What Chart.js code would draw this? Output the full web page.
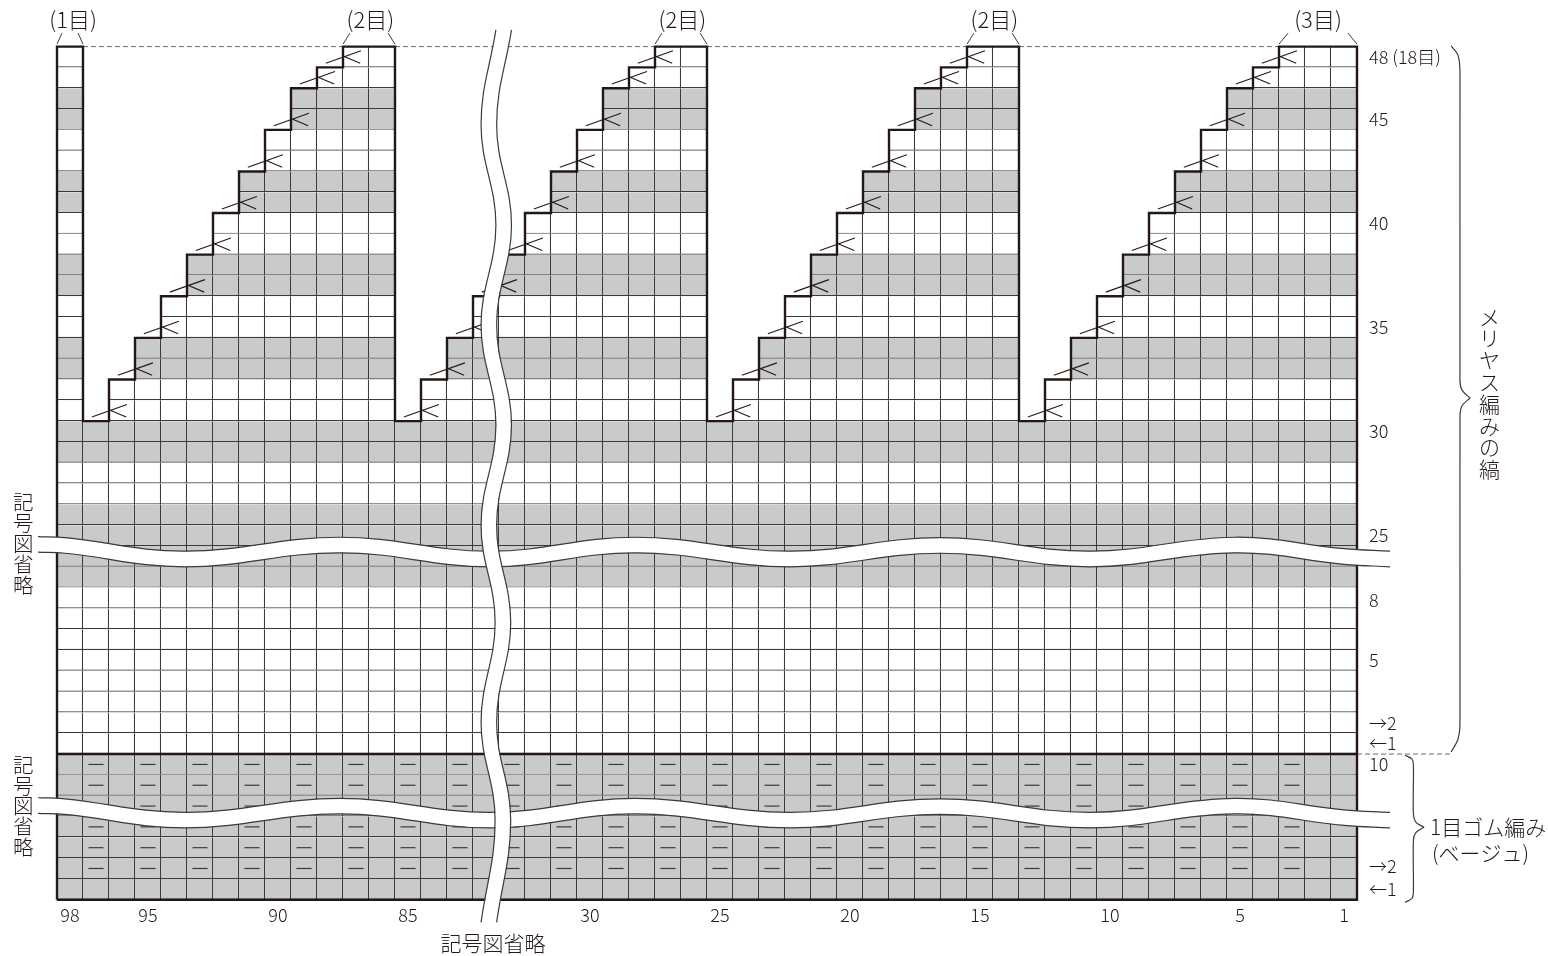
<!DOCTYPE html>
<html lang="ja">
<head>
<meta charset="utf-8">
<title>編み図</title>
<style>
  html, body { margin: 0; padding: 0; background: #fff; }
  canvas { display: block; }
</style>
<script src="https://cdn.jsdelivr.net/npm/chart.js@4/dist/chart.umd.min.js"></script>
</head>
<body>
<canvas id="knitChart" width="1548" height="956"></canvas>
<script>
// Stitch numbers, left to right (the chart skips 82..35 behind the vertical break)
const columnLabels = ['98','97','96','95','94','93','92','91','90','89','88','87','86','85','84','83',
  '34','33','32','31','30','29','28','27','26','25','24','23','22','21','20','19','18','17','16','15',
  '14','13','12','11','10','9','8','7','6','5','4','3','2','1'];
const shownColumnLabels = ['98','95','90','85','30','25','20','15','10','5','1'];

// Top edge of each column, counted in rows from the top of the grid
const columnTop = [0,
  18,16,14,12,10,8,6,4,2,1,0,0,
  18,16,14,12,10,8,6,4,2,1,0,0,
  18,16,14,12,10,8,6,4,2,1,0,0,
  18,16,14,12,10,8,6,4,2,1,0,0,0];

// 1 = grey row, 0 = white row, from the top row down
const rowShade = [0,0,1,1,0,0,1,1,0,0,1,1,0,0,1,1,0,0,1,1,0,0,1,1,1,1,0,0,0,0,0,0,0,0,1,1,1,1,1,1,1];

// Row tick labels on the right
const rowTickValues = [0.5,3.5,8.5,13.5,18.5,23.5,26.6,29.5,32.5,33.5,34.5,39.4,40.5];
const rowTickLabels = ['48 (18目)','45','40','35','30','25','8','5','→2','←1','10','→2','←1'];

// Decrease symbols: column edge and row of each one in the first repeat
const decreaseCols = [11,10,9,8,7,6,5,4,3,2];
const decreaseRows = [0,1,3,5,7,9,11,13,15,17];
const decreaseRepeats = [0,12,24,36];

// Purl dashes in the ribbing
const purlCols = [1,3,5,7,9,11,13,15,17,19,21,23,25,27,29,31,33,35,37,39,41,43,45,47];
const purlRows = [34,35,36,37,38,39];

// Break lines, upper edge of the horizontal ones and left edge of the vertical one
const waveCols = [-0.73,0.3,4.92,10.88,16.65,22.23,28.19,33.96,39.73,45.31,49.5,51.27];
const waveRows = [23.55,23.6,24.25,23.58,24.25,23.58,24.25,23.6,24.25,23.58,24.13,24.25];
const ribWaveShift = 12.55;
const breakCols = [16.88,16.31,16.88,16.31,16.88,16.31,16.85,16.31,16.85,16.31];
const breakRows = [-0.8,3.77,8.58,13.38,18.19,22.99,27.66,32.47,37.18,42.09];

// Braces, each half ends on the tip
const braceUpper = [[53.62,-0.04],[53.88,0.4],[53.96,1.22],[53.96,16.03],[54.04,16.51],[54.35,16.89]];
const braceLower = [[54.35,16.89],[54.04,17.26],[53.96,17.81],[53.96,32.52],[53.88,33.3],[53.62,33.9]];
const ribBraceUpper = [[51.85,34.06],[52.12,34.25],[52.17,34.59],[52.17,36.9],[52.27,37.28],[52.58,37.52]];
const ribBraceLower = [[52.58,37.52],[52.27,37.76],[52.17,38.14],[52.17,40.55],[52.12,40.93],[51.85,41.12]];

// Stitch-count caps above the grid: left edge, right edge, lean of the marks
const capLefts = [0,11,23,35,47];
const capRights = [1,13,25,37,50];
const capLeans = [0.19,0.27,0.27,0.27,0.35];

// Text outside the axes: [text, column, row], vertical ones are stacked by character
const notes = [
  ['(1目)', 0.62, -1.28, 22],
  ['(2目)', 12.05, -1.28, 22],
  ['(2目)', 24.05, -1.28, 22],
  ['(2目)', 36.05, -1.28, 22],
  ['(3目)', 48.5, -1.28, 22],
  ['記号図省略', 16.77, 43.1, 21]
];
const leftNotes = [
  ['1目ゴム編み', 52.81, 37.52],
  ['(ベージュ)', 52.88, 38.77]
];
const verticalNotes = [
  ['記号図省略', -1.3, 21.9, 20.8, 20.5],
  ['記号図省略', -1.3, 34.55, 20.4, 20.5],
  ['メリヤス編みの縞', 55.1, 12.98, 21.8, 21]
];

const ink = '#231815';
const gridInk = '#3e3a39';
const grey = '#c9caca';
const fontName = '"Noto Sans CJK JP"';

const cellDatasets = rowShade.map((shade, row) => ({
  data: columnTop.map(top => (top <= row ? [row, row + 1] : null)),
  backgroundColor: shade ? grey : '#ffffff',
  borderColor: gridInk,
  borderWidth: { top: 0, left: 0, right: 1.2, bottom: 1.2 },
  borderSkipped: false,
  inflateAmount: 0,
  xAxisID: 'x',
  yAxisID: 'y',
  grouped: false,
  categoryPercentage: 1,
  barPercentage: 1
}));

function lineDataset(data, color, width, extra) {
  return Object.assign({
    type: 'line',
    data: data,
    xAxisID: 'xs',
    yAxisID: 'y',
    borderColor: color,
    borderWidth: width,
    pointRadius: 0,
    fill: false,
    clip: false,
    tension: 0,
    capBezierPoints: false,
    spanGaps: false
  }, extra || {});
}

// Several separate strokes in one dataset, split by empty points
function strokes(list) {
  const out = [];
  list.forEach(stroke => {
    stroke.forEach(p => out.push({ x: p[0], y: p[1] }));
    out.push({ x: stroke[stroke.length - 1][0], y: null });
  });
  return out;
}

const outline = [{ x: 0, y: 41 }];
columnTop.forEach((top, col) => {
  outline.push({ x: col, y: top });
  outline.push({ x: col + 1, y: top });
});
outline.push({ x: 50, y: 41 }, { x: 0, y: 41 });

const decreaseStrokes = [];
decreaseRepeats.forEach(shift => {
  decreaseCols.forEach((col, i) => {
    const c = col + shift;
    const r = decreaseRows[i] + 0.5;
    decreaseStrokes.push([[c - 0.66, r + 0.3], [c + 0.69, r - 0.3]]);
    decreaseStrokes.push([[c, r - 0.05], [c + 0.66, r + 0.3]]);
  });
});

const purlPoints = [];
purlRows.forEach(row => purlCols.forEach(col => purlPoints.push({ x: col + 0.5, y: row + 0.5 })));

const capStrokes = [];
capLefts.forEach((left, i) => {
  capStrokes.push([[left, -0.12], [left + capLeans[i], -0.65]]);
  capStrokes.push([[capRights[i], -0.12], [capRights[i] - capLeans[i], -0.65]]);
});

function waveSet(shift) {
  const top = waveCols.map((x, i) => ({ x: x, y: waveRows[i] + shift }));
  const mid = waveCols.map((x, i) => ({ x: x, y: waveRows[i] + shift + 0.37 }));
  const low = waveCols.map((x, i) => ({ x: x, y: waveRows[i] + shift + 0.75 }));
  return [
    lineDataset(mid, '#ffffff', 15, { tension: 0.4 }),
    lineDataset(top, '#3e3a39', 1.2, { tension: 0.4 }),
    lineDataset(low, '#3e3a39', 1.2, { tension: 0.4 })
  ];
}

const breakLeft = breakCols.map((x, i) => ({ x: x, y: breakRows[i] }));
const breakMid = breakCols.map((x, i) => ({ x: x + 0.3, y: breakRows[i] }));
const breakRight = breakCols.map((x, i) => ({ x: x + 0.6, y: breakRows[i] }));

// Painted back to front; the order field below turns this into Chart.js order
const datasets = [
  ...cellDatasets,
  lineDataset([{ x: 1, y: 0 }, { x: 47, y: 0 }], '#6f6b69', 1, { borderDash: [5, 3] }),
  lineDataset([{ x: 50, y: 34 }, { x: 53.6, y: 34 }], '#6f6b69', 1, { borderDash: [5, 3] }),
  lineDataset(outline, ink, 2.4),
  lineDataset([{ x: 0, y: 34 }, { x: 50, y: 34 }], ink, 2.4),
  lineDataset(purlPoints, '#3e3a39', 0, {
    showLine: false,
    pointStyle: 'line',
    pointRadius: 7.5,
    pointBorderWidth: 1.2,
    pointBorderColor: '#3e3a39'
  }),
  lineDataset(strokes(decreaseStrokes), ink, 1.1),
  lineDataset(strokes(capStrokes), '#3e3a39', 1),
  lineDataset(braceUpper.map(p => ({ x: p[0], y: p[1] })), '#3e3a39', 1.2, { tension: 0.3 }),
  lineDataset(braceLower.map(p => ({ x: p[0], y: p[1] })), '#3e3a39', 1.2, { tension: 0.3 }),
  lineDataset(ribBraceUpper.map(p => ({ x: p[0], y: p[1] })), '#3e3a39', 1.2, { tension: 0.3 }),
  lineDataset(ribBraceLower.map(p => ({ x: p[0], y: p[1] })), '#3e3a39', 1.2, { tension: 0.3 }),
  ...waveSet(0),
  ...waveSet(ribWaveShift),
  lineDataset(breakMid, '#ffffff', 14.5, { tension: 0.4 }),
  lineDataset(breakLeft, '#3e3a39', 1.2, { tension: 0.4 }),
  lineDataset(breakRight, '#3e3a39', 1.2, { tension: 0.4 })
];
datasets.forEach((d, i) => { d.order = datasets.length - i; });

// Draws the notes around the grid, placed with the chart's own scales
const notesPlugin = {
  id: 'notes',
  afterDraw(chart) {
    const { ctx } = chart;
    const sx = chart.scales.xs;
    const sy = chart.scales.y;
    ctx.save();
    ctx.fillStyle = ink;
    ctx.textBaseline = 'middle';
    ctx.textAlign = 'center';
    notes.forEach(n => {
      ctx.font = '300 ' + n[3] + 'px ' + fontName;
      ctx.fillText(n[0], sx.getPixelForValue(n[1]), sy.getPixelForValue(n[2]));
    });
    ctx.textAlign = 'left';
    ctx.font = '300 21px ' + fontName;
    leftNotes.forEach(n => ctx.fillText(n[0], sx.getPixelForValue(n[1]), sy.getPixelForValue(n[2])));
    ctx.textAlign = 'center';
    verticalNotes.forEach(n => {
      ctx.font = '300 ' + n[4] + 'px ' + fontName;
      Array.from(n[0]).forEach((ch, i) => {
        ctx.fillText(ch, sx.getPixelForValue(n[1]), sy.getPixelForValue(n[2]) + i * n[3]);
      });
    });
    ctx.restore();
  }
};

new Chart(document.getElementById('knitChart'), {
  type: 'bar',
  data: { labels: columnLabels, datasets: datasets },
  plugins: [notesPlugin],
  options: {
    responsive: false,
    animation: false,
    events: [],
    layout: { padding: { left: 57, top: 46.6, right: 0, bottom: 0 } },
    plugins: { legend: { display: false }, tooltip: { enabled: false } },
    scales: {
      x: {
        type: 'category',
        position: 'bottom',
        offset: true,
        afterFit(scale) { scale.height = 56.3; },
        grid: { display: false, drawTicks: false },
        border: { display: false },
        ticks: {
          autoSkip: false,
          maxRotation: 0,
          minRotation: 0,
          padding: 5,
          color: ink,
          font: { family: fontName, size: 18, weight: '300' },
          callback(value) {
            const label = this.getLabelForValue(value);
            return shownColumnLabels.includes(label) ? label : '';
          }
        }
      },
      // Same width as x, but continuous: used for everything that is not a cell
      xs: {
        type: 'linear',
        display: false,
        offset: false,
        bounds: 'data',
        afterDataLimits(scale) { scale.min = 0; scale.max = 50; }
      },
      y: {
        type: 'linear',
        position: 'right',
        reverse: true,
        min: 0,
        max: 41,
        bounds: 'data',
        afterFit(scale) { scale.width = 191; },
        afterBuildTicks(scale) { scale.ticks = rowTickValues.map(v => ({ value: v })); },
        grid: { display: false, drawTicks: false },
        border: { display: false },
        ticks: {
          autoSkip: false,
          crossAlign: 'near',
          padding: 12,
          color: ink,
          font: { family: fontName, size: 18, weight: '300' },
          callback(value, index) { return rowTickLabels[index]; }
        }
      }
    }
  }
});
</script>
</body>
</html>
